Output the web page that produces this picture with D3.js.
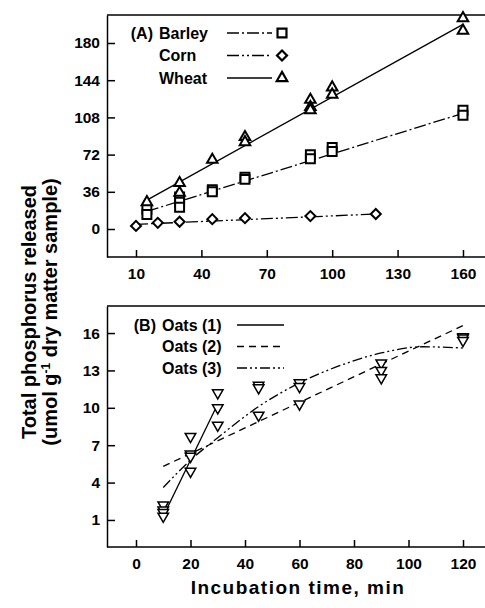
<!DOCTYPE html>
<html>
<head>
<meta charset="utf-8">
<script src="https://cdn.jsdelivr.net/npm/d3@7"></script>
<style>
  body { margin: 0; background: #fff; }
  svg { display: block; font-family: "Liberation Sans", Arial, sans-serif; }
  .axis text { font-size: 15.5px; font-weight: bold; fill: #000; }
  .axis path, .axis line { stroke: #000; stroke-width: 1.5px; }
  .legend text { font-size: 16px; font-weight: bold; }
</style>
</head>
<body>
<script>
// Panel A: phosphorus released from barley, corn and wheat
var barleyT = [15, 15, 30, 30, 30, 45, 45, 60, 60, 90, 90, 100, 100, 160, 160];
var barleyV = [19, 14, 31, 26, 21, 38, 36, 50, 48, 72, 68, 79, 75, 115, 110];
var cornT = [10, 20, 30, 45, 60, 90, 120];
var cornV = [3, 6, 7, 9.5, 10.5, 12.5, 14.5];
var wheatT = [15, 30, 30, 45, 60, 60, 90, 90, 90, 100, 100, 160, 160];
var wheatV = [26, 44.5, 35, 67, 89, 84, 125, 118, 115, 137, 130, 204, 192];
// fitted lines as drawn in the figure (end points)
var barleyFitT = [15, 160], barleyFitV = [17, 112];
var cornFitT = [10, 120], cornFitV = [4.5, 14.5];
var wheatFitT = [15, 160], wheatFitV = [28, 198];
var ticksA_x = [10, 40, 70, 100, 130, 160];
var ticksA_y = [0, 36, 72, 108, 144, 180];

// Panel B: oats
var oatsT = [10, 10, 10, 10, 20, 20, 20, 20, 30, 30, 30, 45, 45, 45, 60, 60, 60, 90, 90, 90, 120, 120, 120];
var oatsV = [2.2, 1.8, 1.6, 1.3, 7.7, 6.3, 6.1, 4.9, 11.2, 10.0, 8.6, 11.8, 11.6, 9.4, 12.0, 11.7, 10.3, 13.6, 13.0, 12.4, 15.7, 15.6, 15.4];
var oats1T = [10, 30], oats1V = [1.3, 10.3];
var oats2T = [10, 120], oats2V = [5.3, 16.6];
var oats3T = [10, 20, 30, 45, 60, 75, 90, 105, 120];
var oats3V = [3.6, 5.8, 7.6, 10.1, 12.0, 13.4, 14.4, 14.9, 14.8];
var ticksB_x = [0, 20, 40, 60, 80, 100, 120];
var ticksB_y = [1, 4, 7, 10, 13, 16];

var width = 485, height = 608;
var left = 107, right = 490;

var svg = d3.select("body")
  .append("svg")
  .attr("width", width)
  .attr("height", height);

function zip(ts, vs) {
  return ts.map(function(t, i) { return { t: t, v: vs[i] }; });
}

var squareSym = d3.symbol().type(d3.symbolSquare).size(80);
var diamondSym = d3.symbol().type(d3.symbolSquare).size(50);
var triSym = d3.symbol().type(d3.symbolTriangle).size(48);

function panel(opts) {
  var x = d3.scaleLinear().domain(opts.xDomain).range([left, 485]);
  var y = d3.scaleLinear().domain(opts.yDomain).range([opts.bottom, opts.top]);
  var g = svg.append("g");

  var xAxis = d3.axisBottom(x).tickValues(opts.xTicks).tickSizeInner(-7).tickSizeOuter(0).tickPadding(11);
  g.append("g")
    .attr("class", "x axis")
    .attr("transform", "translate(0," + opts.bottom + ")")
    .call(xAxis);
  g.select(".x.axis .domain").attr("d", "M" + left + ",0H" + right);

  var yAxis = d3.axisLeft(y).tickValues(opts.yTicks).tickSizeInner(-8).tickSizeOuter(0).tickPadding(7);
  g.append("g")
    .attr("class", "y axis")
    .attr("transform", "translate(" + left + ",0)")
    .call(yAxis);

  g.append("line")
    .attr("x1", left).attr("x2", right)
    .attr("y1", opts.top).attr("y2", opts.top)
    .attr("stroke", "#000").attr("stroke-width", 1.5);

  var line = d3.line()
    .x(function(d) { return x(d.t); })
    .y(function(d) { return y(d.v); });

  opts.lines.forEach(function(l) {
    g.append("path")
      .datum(l.data)
      .attr("d", l.curve ? line.curve(l.curve) : line.curve(d3.curveLinear))
      .attr("fill", "none")
      .attr("stroke", "#000")
      .attr("stroke-width", 1.3)
      .attr("stroke-dasharray", l.dash);
  });

  opts.points.forEach(function(p) {
    g.selectAll(null)
      .data(p.data)
      .enter().append("path")
      .attr("d", p.sym)
      .attr("transform", function(d) {
        return "translate(" + x(d.t) + "," + y(d.v) + ")" + (p.rot ? " rotate(" + p.rot + ")" : "");
      })
      .attr("fill", "#fff")
      .attr("stroke", "#000")
      .attr("stroke-width", p.sw);
  });

  var lg = g.append("g").attr("class", "legend");
  opts.legend.forEach(function(e, i) {
    var yy = opts.legendY + i * opts.legendStep;
    lg.append("text")
      .attr("x", opts.labelX)
      .attr("y", yy)
      .attr("dy", "0.35em")
      .text(e.label);
    if (e.prefix) {
      lg.append("text")
        .attr("x", opts.labelX - 6)
        .attr("y", yy)
        .attr("dy", "0.35em")
        .attr("text-anchor", "end")
        .text(e.prefix);
    }
    lg.append("line")
      .attr("x1", opts.lineX1).attr("x2", opts.lineX2)
      .attr("y1", yy).attr("y2", yy)
      .attr("stroke", "#000")
      .attr("stroke-width", 1.3)
      .attr("stroke-dasharray", e.dash);
    if (e.sym) {
      lg.append("path")
        .attr("d", e.sym)
        .attr("transform", "translate(" + (opts.lineX2 + 10) + "," + yy + ")" + (e.rot ? " rotate(" + e.rot + ")" : ""))
        .attr("fill", "#fff")
        .attr("stroke", "#000")
        .attr("stroke-width", 2.2);
    }
  });
}

panel({
  xDomain: [-3.3, 170.1], yDomain: [-27.1, 207.1],
  top: 15, bottom: 257,
  xTicks: ticksA_x, yTicks: ticksA_y,
  lines: [
    { data: zip(barleyFitT, barleyFitV), dash: "12,3,2,3" },
    { data: zip(cornFitT, cornFitV), dash: "12,3,2,3,2,3" },
    { data: zip(wheatFitT, wheatFitV), dash: null }
  ],
  points: [
    { data: zip(cornT, cornV), sym: diamondSym, sw: 2, rot: 45 },
    { data: zip(barleyT, barleyV), sym: squareSym, sw: 2 },
    { data: zip(wheatT, wheatV), sym: triSym, sw: 2 }
  ],
  legend: [
    { prefix: "(A)", label: "Barley", dash: "12,3,2,3", sym: squareSym },
    { label: "Corn", dash: "12,3,2,3,2,3", sym: diamondSym, rot: 45 },
    { label: "Wheat", dash: null, sym: triSym }
  ],
  legendY: 33, legendStep: 22.5, labelX: 159, lineX1: 227, lineX2: 272
});

panel({
  xDomain: [-10.64, 128.07], yDomain: [-1.17, 18.17],
  top: 306, bottom: 547,
  xTicks: ticksB_x, yTicks: ticksB_y,
  lines: [
    { data: zip(oats1T, oats1V), dash: null },
    { data: zip(oats2T, oats2V), dash: "7,5" },
    { data: zip(oats3T, oats3V), dash: "10,3,2,3,2,3", curve: d3.curveMonotoneX }
  ],
  points: [
    { data: zip(oatsT, oatsV), sym: triSym, sw: 1.5, rot: 180 }
  ],
  legend: [
    { prefix: "(B)", label: "Oats (1)", dash: null },
    { label: "Oats (2)", dash: "7,5" },
    { label: "Oats (3)", dash: "10,3,2,3,2,3" }
  ],
  legendY: 325, legendStep: 21.5, labelX: 162, lineX1: 237, lineX2: 284
});

// axis titles
svg.append("text")
  .attr("x", 298)
  .attr("y", 594)
  .attr("text-anchor", "middle")
  .style("font-size", "19px")
  .style("font-weight", "bold")
  .style("letter-spacing", "1.5px")
  .text("Incubation time, min");

var yt = svg.append("g")
  .attr("transform", "translate(0,312) rotate(-90)")
  .style("font-size", "20px")
  .style("font-weight", "bold")
  .attr("text-anchor", "middle");
yt.append("text").attr("x", 0).attr("y", 36).text("Total phosphorus released");
var t2 = yt.append("text").attr("x", 0).attr("y", 57);
t2.append("tspan").text("(umol g");
t2.append("tspan").attr("dy", -7).style("font-size", "12px").text("-1");
t2.append("tspan").attr("dy", 7).text(" dry matter sample)");
</script>
</body>
</html>
